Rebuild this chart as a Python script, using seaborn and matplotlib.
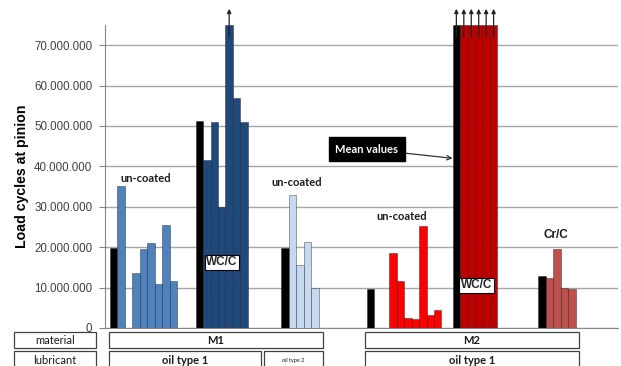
import pandas as pd
import seaborn as sns
import matplotlib.pyplot as plt
from matplotlib.patches import Rectangle
from matplotlib.ticker import FuncFormatter

# Load cycles at pinion per test, first value of each group is the mean value
m1_oil1_uncoated = [19.7e6, 35.1e6, 13.5e6, 19.6e6, 21.0e6, 10.9e6, 25.4e6, 11.6e6]
m1_oil1_wcc = [51.2e6, 41.7e6, 50.9e6, 30.0e6, 75.0e6, 57.0e6, 50.9e6]
m1_oil2_uncoated = [19.9e6, 32.9e6, 15.5e6, 21.4e6, 10.0e6]
m2_oil1_uncoated = [9.6e6, 18.5e6, 11.7e6, 2.5e6, 2.3e6, 25.2e6, 3.3e6, 4.5e6]
m2_oil1_wcc = [75.0e6, 75.0e6, 75.0e6, 75.0e6, 75.0e6, 75.0e6]
m2_oil1_crc = [12.9e6, 12.5e6, 19.6e6, 10.0e6, 9.7e6]

# run-outs (test stopped without failure)
m1_oil1_wcc_runout = [False, False, False, False, True, False, False]
m2_oil1_wcc_runout = [True, True, True, True, True, True]

group_names = ['M1 oil1 un-coated', 'M1 oil1 WC/C', 'M1 oil2 un-coated',
               'M2 oil1 un-coated', 'M2 oil1 WC/C', 'M2 oil1 Cr/C']
group_values = [m1_oil1_uncoated, m1_oil1_wcc, m1_oil2_uncoated,
                m2_oil1_uncoated, m2_oil1_wcc, m2_oil1_crc]
group_runout = [None, m1_oil1_wcc_runout, None, None, m2_oil1_wcc_runout, None]
group_colors = ['#4f81bd', '#1f497d', '#c6d9f1', '#ff0000', '#c00000', '#c0504d']

# bar slots (in bar widths)
group_start = [0.5, 12, 23.5, 35, 46.5, 58]
group_slots = [[0, 1, 3, 4, 5, 6, 7, 8], [0, 1, 2, 3, 4, 5, 6], [0, 1, 2, 3, 4],
               [0, 3, 4, 5, 6, 7, 8, 9], [0, 1, 2, 3, 4, 5], [0, 1, 2, 3, 4]]

rows = []
for name, vals, start, slots, ro in zip(group_names, group_values, group_start,
                                        group_slots, group_runout):
    for i, (v, s) in enumerate(zip(vals, slots)):
        rows.append({'x': start + s, 'load': v,
                     'series': 'mean' if i == 0 else name,
                     'runout': bool(ro[i]) if ro else False})
df = pd.DataFrame(rows)

palette = {'mean': 'black'}
palette.update(dict(zip(group_names, group_colors)))

sns.set_style('white')
plt.rcParams['font.family'] = ['Liberation Sans', 'DejaVu Sans']

W, H = 621, 366
fig = plt.figure(figsize=(W / 100, H / 100), dpi=100)
ax = fig.add_axes([105 / W, (H - 328) / H, 513 / W, 303 / H])

sns.barplot(data=df, x='x', y='load', hue='series', palette=palette,
            dodge=False, native_scale=True, width=1, errorbar=None, saturation=1,
            legend=False, edgecolor=(0, 0, 0, 0.35), linewidth=0.7, ax=ax)

ax.set_xlim(-0.67, 68.2)
ax.set_ylim(0, 75e6)
ax.set_yticks(range(0, 70_000_001, 10_000_000))
ax.yaxis.set_major_formatter(FuncFormatter(lambda v, p: f'{int(v):,}'.replace(',', '.')))
ax.set_xticks([])
ax.set_xlabel('')
ax.set_axisbelow(True)
ax.yaxis.grid(True, color='#a6a6a6', lw=1)
ax.tick_params(axis='y', left=True, length=4, width=0.8, color='#868686',
               labelsize=8.3, labelcolor='#404040', pad=5)
for s in ['top', 'right']:
    ax.spines[s].set_visible(False)
for s in ['left', 'bottom']:
    ax.spines[s].set_color('#868686')
    ax.spines[s].set_linewidth(0.8)

ax.set_ylabel('Load cycles at pinion', fontsize=10.2, fontweight='bold', color='black')
ax.yaxis.set_label_coords(-0.148, 0.5)

# run-out arrows
for _, r in df[df['runout']].iterrows():
    ax.annotate('', xy=(r['x'], 79e6), xytext=(r['x'], 72e6),
                arrowprops=dict(arrowstyle='-|>', color='#222222', lw=0.9,
                                mutation_scale=6, shrinkA=0, shrinkB=0),
                annotation_clip=False)

# group labels
lato = ['Lato', 'DejaVu Sans']
for x, y in [(4.8, 36.9e6), (25.0, 36.1e6), (39.2, 27.7e6)]:
    ax.text(x, y, 'un-coated', ha='center', va='center', fontsize=8,
            fontweight='bold', family=lato, color='#1a1a1a')
ax.text(59.8, 23.0e6, 'Cr/C', ha='center', va='center', fontsize=8.5,
        fontweight='bold', color='#1a1a1a')
for x, y in [(15.0, 16.3e6), (49.2, 10.6e6)]:
    ax.text(x, y, 'WC/C', ha='center', va='center', fontsize=8.5, fontweight='bold',
            bbox=dict(boxstyle='square,pad=0.12', fc='white', ec='black', lw=0.8))

ax.annotate('Mean values', xy=(46.0, 42.0e6), xytext=(34.5, 44.3e6),
            ha='center', va='center', fontsize=8, fontweight='bold', family=lato,
            color='white',
            bbox=dict(boxstyle='square,pad=0.6', fc='black', ec='black'),
            arrowprops=dict(arrowstyle='->', color='#333333', lw=0.9,
                            shrinkA=0, shrinkB=0))

# table below the chart
def cell(x0, x1, y0, y1, label, **kw):
    fig.add_artist(Rectangle((x0 / W, 1 - y1 / H), (x1 - x0) / W, (y1 - y0) / H,
                             transform=fig.transFigure, fc='white', ec='#404040',
                             lw=0.9, clip_on=False))
    fig.text((x0 + x1) / 2 / W, 1 - (y0 + y1) / 2 / H, label, ha='center',
             va='center', family=lato, color='#1a1a1a', **kw)

cell(14, 96, 332, 348, 'material', fontsize=8)
cell(14, 96, 351, 370, 'lubricant', fontsize=8)
cell(109, 323, 332, 348, 'M1', fontsize=8, fontweight='bold')
cell(109, 261, 351, 370, 'oil type 1', fontsize=8, fontweight='bold')
cell(264, 323, 351, 370, 'oil type 2', fontsize=4)
cell(365, 579, 332, 348, 'M2', fontsize=8, fontweight='bold')
cell(365, 579, 351, 370, 'oil type 1', fontsize=8, fontweight='bold')

fig.savefig('out.png', dpi=100)
